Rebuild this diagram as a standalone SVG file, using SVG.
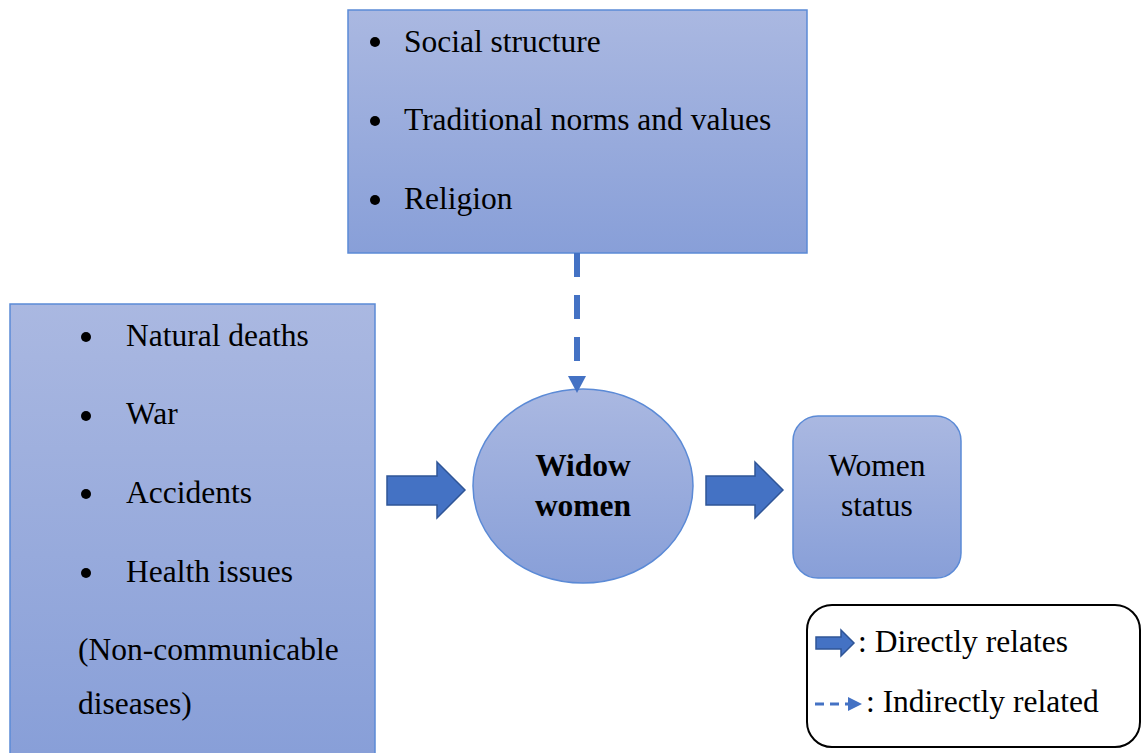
<svg xmlns="http://www.w3.org/2000/svg" width="1141" height="753" viewBox="0 0 1141 753">
<style>
.box{stroke:#5b8ad6;stroke-width:1.5}
.blk{fill:#4472c4;stroke:#2f5597;stroke-width:1.5}
</style>
<defs>
<linearGradient id="g" x1="0" y1="0" x2="0" y2="1">
<stop offset="0" stop-color="#aab8e1"/>
<stop offset="1" stop-color="#889fd8"/>
</linearGradient>
<linearGradient id="g2" gradientUnits="userSpaceOnUse" x1="0" y1="304" x2="0" y2="753">
<stop offset="0" stop-color="#aab8e1"/>
<stop offset="1" stop-color="#889fd8"/>
</linearGradient>
</defs>
<rect width="1141" height="753" fill="#fff"/>
<g id="top-box">
<rect class="box" x="348" y="10" width="459" height="243" fill="url(#g)"/>
<circle cx="375" cy="42" r="5"/><text x="404" y="52" font-family="Liberation Serif" font-size="31.5">Social structure</text>
<circle cx="375" cy="121" r="5"/><text x="404" y="130" font-family="Liberation Serif" font-size="31.5">Traditional norms and values</text>
<circle cx="375" cy="200" r="5"/><text x="404" y="209" font-family="Liberation Serif" font-size="31.5">Religion</text>
</g>
<g id="left-box">
<rect class="box" x="10" y="304" width="365" height="460" fill="url(#g2)"/>
<circle cx="86" cy="337" r="5"/><text x="126" y="346" font-family="Liberation Serif" font-size="31.5">Natural deaths</text>
<circle cx="86" cy="416" r="5"/><text x="126" y="424" font-family="Liberation Serif" font-size="31.5">War</text>
<circle cx="86" cy="494" r="5"/><text x="126" y="503" font-family="Liberation Serif" font-size="31.5">Accidents</text>
<circle cx="86" cy="573" r="5"/><text x="126" y="582" font-family="Liberation Serif" font-size="31.5">Health issues</text>
<text x="78" y="660" font-family="Liberation Serif" font-size="31.5">(Non-communicable</text>
<text x="78" y="714" font-family="Liberation Serif" font-size="31.5">diseases)</text>
</g>
<g id="widow">
<ellipse class="box" cx="583" cy="486" rx="110" ry="97" fill="url(#g)"/>
<text x="583" y="476" font-family="Liberation Serif" font-size="31.5" font-weight="bold" text-anchor="middle">Widow</text>
<text x="583" y="516" font-family="Liberation Serif" font-size="31.5" font-weight="bold" text-anchor="middle">women</text>
</g>
<g id="status">
<rect class="box" x="793" y="416" width="168" height="162" rx="25" fill="url(#g)"/>
<text x="877" y="476" font-family="Liberation Serif" font-size="31.5" text-anchor="middle">Women</text>
<text x="877" y="516" font-family="Liberation Serif" font-size="31.5" text-anchor="middle">status</text>
</g>
<g id="connectors">
<line x1="577" y1="253" x2="577" y2="376" stroke="#4472c4" stroke-width="6" stroke-dasharray="24,18"/>
<polygon points="568,376 586,376 577,393" fill="#4472c4"/>
<polygon class="blk" points="387,476 437,476 437,462 465,490 437,518 437,505 387,505"/>
<polygon class="blk" points="706,476 755,476 755,462 783,490 755,518 755,505 706,505"/>
</g>
<g id="legend">
<rect x="807" y="605" width="333" height="142" rx="25" fill="#fff" stroke="#000" stroke-width="2"/>
<polygon class="blk" points="816,637 841,637 841,630 854,643 841,656 841,649 816,649"/>
<text x="858" y="652" font-family="Liberation Serif" font-size="31.5">: Directly relates</text>
<line x1="815" y1="704" x2="848" y2="704" stroke="#4472c4" stroke-width="3" stroke-dasharray="9,6"/>
<polygon points="848,697 862,704 848,711" fill="#4472c4"/>
<text x="866" y="712" font-family="Liberation Serif" font-size="31.5">: Indirectly related</text>
</g>
</svg>
